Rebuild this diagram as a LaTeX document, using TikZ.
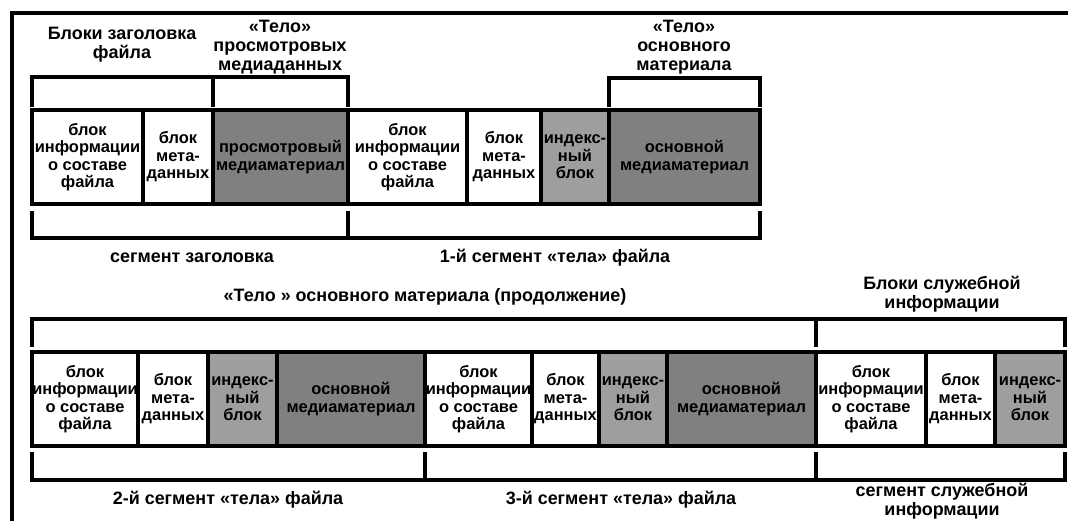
\documentclass[tikz,border=0pt]{standalone}
\usepackage{fontspec}
\setmainfont{Liberation Sans}
\definecolor{dkgray}{RGB}{128,128,128}
\definecolor{ltgray}{RGB}{158,158,158}
\begin{document}
\begin{tikzpicture}[x=1bp,y=-1bp,
  blk/.style={draw, line width=3.2bp, inner sep=0pt, minimum height=94bp,
    align=center, fill=white, font=\fontsize{16.5}{17.5}\selectfont\bfseries},
  dark/.style={fill=dkgray},
  light/.style={fill=ltgray},
  br/.style={line width=3.5bp, line join=miter},
  lbl/.style={align=center, inner sep=0pt, font=\fontsize{18}{19}\selectfont\bfseries}]
\useasboundingbox (0,0) rectangle (1068,521);
% frame
\draw[line width=4bp] (12,521) -- (12,13) -- (1068,13);

% ---- row 1 ----
\node[blk, minimum width=111bp] (a1) at (87.5,157) {блок\\информации\\о составе\\файла};
\node[blk, minimum width=70bp] (a2) at (178,157) {блок\\мета-\\данных};
\node[blk, dark, minimum width=135bp] (a3) at (280.5,157) {просмотровый\\медиаматериал};
\node[blk, minimum width=119bp] (a4) at (407.5,157) {блок\\информации\\о составе\\файла};
\node[blk, minimum width=74bp] (a5) at (504,157) {блок\\мета-\\данных};
\node[blk, light, minimum width=68bp] (a6) at (575,157) {индекс-\\ный\\блок};
\node[blk, dark, minimum width=151bp] (a7) at (684.5,157) {основной\\медиаматериал};

\draw[br] (32,107) -- (32,77) -- (348,77) -- (348,107);
\draw[br] (213,77) -- (213,107);
\draw[br] (609,107) -- (609,78) -- (760,78) -- (760,107);
\draw[br] (32,211) -- (32,238) -- (760,238) -- (760,211);
\draw[br] (348,211) -- (348,238);

\node[lbl] (t1) at (122,45) {Блоки заголовка\\файла};
\node[lbl] (t2) at (280,47) {«Тело»\\просмотровых\\медиаданных};
\node[lbl] (t3) at (684,47) {«Тело»\\основного\\материала};
\node[lbl] (s1) at (192,258) {сегмент заголовка};
\node[lbl] (s2) at (555,258) {1-й сегмент «тела» файла};

% ---- row 2 ----
\node[blk, minimum width=106bp] (b1) at (85,399) {блок\\информации\\о составе\\файла};
\node[blk, minimum width=70bp] (b2) at (173,399) {блок\\мета-\\данных};
\node[blk, light, minimum width=69bp] (b3) at (242.5,399) {индекс-\\ный\\блок};
\node[blk, dark, minimum width=148bp] (b4) at (351,399) {основной\\медиаматериал};
\node[blk, minimum width=107bp] (b5) at (478.5,399) {блок\\информации\\о составе\\файла};
\node[blk, minimum width=67bp] (b6) at (565.5,399) {блок\\мета-\\данных};
\node[blk, light, minimum width=68bp] (b7) at (633,399) {индекс-\\ный\\блок};
\node[blk, dark, minimum width=149bp] (b8) at (741.5,399) {основной\\медиаматериал};
\node[blk, minimum width=110bp] (b9) at (871,399) {блок\\информации\\о составе\\файла};
\node[blk, minimum width=69bp] (b10) at (960.5,399) {блок\\мета-\\данных};
\node[blk, light, minimum width=70bp] (b11) at (1030,399) {индекс-\\ный\\блок};

\draw[br] (32,347) -- (32,319) -- (1065,319) -- (1065,347);
\draw[br] (816,319) -- (816,347);
\draw[br] (32,452) -- (32,480) -- (1065,480) -- (1065,452);
\draw[br] (425,452) -- (425,480);
\draw[br] (816,452) -- (816,480);

\node[lbl] (t4) at (425,297) {«Тело » основного материала (продолжение)};
\node[lbl] (t5) at (942,294) {Блоки служебной\\информации};
\node[lbl] (s3) at (228,500) {2-й сегмент «тела» файла};
\node[lbl] (s4) at (621,500) {3-й сегмент «тела» файла};
\node[lbl] (s5) at (942,501) {сегмент служебной\\информации};
\end{tikzpicture}
\end{document}
